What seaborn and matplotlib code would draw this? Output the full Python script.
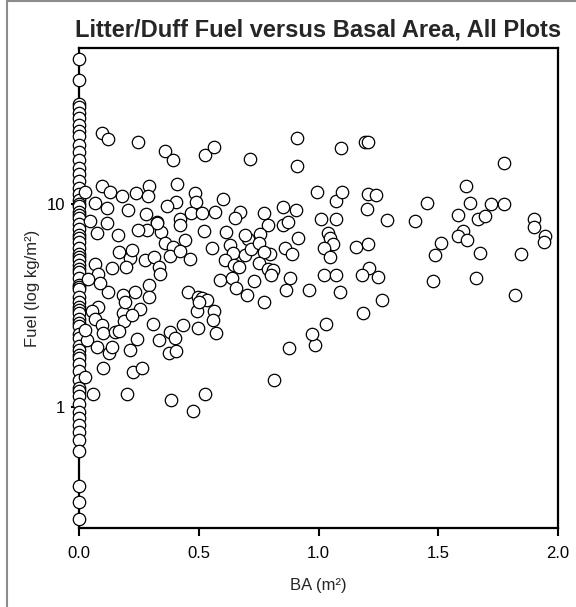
import numpy as np
import pandas as pd
import matplotlib
matplotlib.use("Agg")
import matplotlib.pyplot as plt
from matplotlib.lines import Line2D
import seaborn as sns

# ---- data ----
# plots with zero basal area
fuel_at_zero_ba = [52, 41, 31, 30, 28, 26.5, 24.5, 23, 21.5, 19.5, 18, 16.5, 15, 14, 13,
                   12, 11.2, 10.5, 10.0, 9.8, 9.1, 8.8, 8.5, 8.0, 7.5, 7.0, 6.8, 6.5, 6.1,
                   5.7, 5.5, 5.3, 5.0, 4.8, 4.6, 4.3, 4.0, 3.9, 3.8, 3.5, 3.3, 3.1, 3.0,
                   2.9, 2.7, 2.6, 2.5, 2.3, 2.2, 2.0, 1.9, 1.8, 1.75, 1.63, 1.5, 1.36,
                   1.24, 1.2, 1.13, 1.03, 0.95, 0.88, 0.82, 0.75, 0.69, 0.61, 0.41, 0.34, 0.28]

ba_m2 = [0.095, 0.122, 0.247, 0.359, 0.393, 0.526, 0.563, 0.716, 0.909, 0.909, 1.092, 1.193, 1.207, 1.773,
         0.095, 0.129, 0.181, 0.236, 0.292, 0.290, 0.410, 0.407, 0.486, 0.490, 0.600, 0.366, 0.067, 0.115,
         0.206, 0.280, 0.324, 0.421, 0.467, 0.512, 0.567, 0.672, 0.653, 0.773, 0.852, 0.904, 0.790, 0.852,
         0.872, 0.915, 0.755, 0.707, 0.693, 0.614, 0.524, 0.421, 0.442, 0.341, 0.327, 0.282, 0.247, 0.164,
         0.115, 0.074, 0.044, 0.025, 0.994, 1.073, 1.099, 1.207, 1.242, 1.204, 1.617, 1.451, 1.402, 1.284,
         1.634, 1.722, 1.773, 1.583, 1.666, 1.696, 1.901, 1.898, 1.945, 1.940, 1.603, 1.582, 1.621, 1.513,
         1.485, 1.673, 1.847, 1.478, 1.659, 1.819, 1.010, 1.072, 1.040, 1.050, 1.061, 1.022, 1.050, 1.156,
         1.207, 1.022, 1.074, 1.211, 1.181, 1.249, 1.089, 1.266, 1.185, 1.033, 0.987, 0.971, 0.961, 0.877,
         0.814, 0.359, 0.393, 0.380, 0.421, 0.463, 0.555, 0.632, 0.641, 0.693, 0.720, 0.752, 0.799, 0.772,
         0.860, 0.889, 0.166, 0.215, 0.220, 0.277, 0.313, 0.332, 0.338, 0.197, 0.136, 0.067, 0.081, 0.611,
         0.647, 0.668, 0.750, 0.790, 0.811, 0.803, 0.588, 0.638, 0.730, 0.880, 0.866, 0.655, 0.700, 0.772,
         0.456, 0.498, 0.512, 0.533, 0.294, 0.294, 0.234, 0.185, 0.122, 0.088, 0.039, 0.081, 0.056, 0.254,
         0.184, 0.491, 0.563, 0.560, 0.498, 0.572, 0.502, 0.192, 0.188, 0.220, 0.067, 0.095, 0.101, 0.150,
         0.167, 0.032, 0.074, 0.126, 0.136, 0.242, 0.213, 0.310, 0.336, 0.380, 0.400, 0.435, 0.377, 0.406,
         0.101, 0.227, 0.262, 0.025, 0.057, 0.199, 0.384, 0.526, 0.477, 0.025]

fuel_kg = [22.4, 20.8, 20.1, 18.2, 16.5, 17.4, 19.0, 16.7, 21.2, 15.4, 18.8, 20.3, 20.1, 15.9,
           12.2, 11.5, 10.9, 11.3, 12.3, 10.9, 12.5, 10.2, 11.3, 10.2, 10.6, 9.78, 10.1, 9.52,
           9.34, 8.93, 8.18, 8.44, 9.0, 9.0, 9.14, 9.14, 8.51, 9.0, 9.66, 9.34, 7.84, 7.88,
           8.18, 6.80, 7.08, 6.76, 7.03, 7.24, 7.40, 7.88, 6.68, 7.31, 8.09, 7.45, 7.45, 7.03,
           8.02, 7.17, 8.25, 11.5, 11.4, 10.4, 11.5, 11.2, 11.1, 9.42, 12.3, 10.1, 8.25, 8.34,
           10.1, 10.0, 10.0, 8.86, 8.39, 8.73, 8.44, 7.73, 6.95, 6.52, 7.40, 6.95, 6.65, 6.45,
           5.62, 5.75, 5.69, 4.16, 4.30, 3.56, 8.41, 8.41, 7.22, 6.78, 6.35, 6.05, 5.51, 6.12,
           6.34, 4.47, 4.47, 4.82, 4.47, 4.35, 3.70, 3.35, 2.89, 2.56, 2.03, 2.30, 3.77, 1.96,
           1.36, 6.40, 6.14, 5.52, 5.88, 5.37, 6.09, 6.30, 5.71, 5.61, 6.00, 6.40, 5.68, 5.82,
           6.05, 5.69, 5.82, 5.40, 5.93, 5.30, 5.50, 4.91, 4.52, 4.92, 4.82, 5.04, 4.52, 5.28,
           4.98, 4.87, 5.10, 4.78, 4.73, 4.47, 4.21, 4.30, 4.17, 4.30, 3.78, 3.84, 3.56, 3.30,
           3.70, 3.49, 3.43, 3.37, 3.97, 3.50, 3.70, 3.56, 3.70, 4.07, 4.27, 3.12, 2.97, 3.04,
           2.89, 2.97, 2.97, 2.68, 2.44, 2.31, 3.30, 3.30, 2.65, 2.84, 2.70, 2.54, 2.31, 2.35,
           2.37, 2.14, 1.98, 1.84, 1.97, 2.16, 1.90, 2.56, 2.15, 2.35, 2.18, 2.55, 1.84, 1.89,
           1.55, 1.49, 1.55, 1.41, 1.16, 1.16, 1.09, 1.16, 0.955, 2.40]

x_ticks = [0.0, 0.5, 1.0, 1.5, 2.0]
x_ticklabels = ["0.0", "0.5", "1.0", "1.5", "2.0"]
y_ticks = [1, 10]
y_ticklabels = ["1", "10"]

df = pd.DataFrame({
    "BA": [0.0] * len(fuel_at_zero_ba) + ba_m2,
    "Fuel": fuel_at_zero_ba + fuel_kg,
})

# ---- styling ----
sns.set_style("white")
plt.rcParams["font.family"] = ["Liberation Sans", "DejaVu Sans"]

fig = plt.figure(figsize=(5.76, 6.07), dpi=100)
ax = fig.add_axes([79 / 576, 1 - 528 / 607, (558 - 79) / 576, (528 - 48) / 607])

sns.scatterplot(data=df, x="BA", y="Fuel", ax=ax, marker="o", s=80,
                facecolor="white", edgecolor="black", linewidth=0.9,
                clip_on=False, zorder=3)

ax.set_yscale("log")
ax.set_xlim(0, 2.0)
ax.set_ylim(0.254, 58.6)

ax.set_xticks(x_ticks)
ax.set_xticklabels(x_ticklabels)
ax.set_yticks(y_ticks)
ax.set_yticklabels(y_ticklabels)
ax.yaxis.set_minor_locator(matplotlib.ticker.NullLocator())

ax.tick_params(axis="both", which="major", direction="out", length=6, width=1.5,
               color="black", labelsize=12, labelcolor="black", pad=4,
               bottom=True, left=True)
ax.tick_params(axis="x", pad=7)

for sp in ax.spines.values():
    sp.set_visible(True)
    sp.set_color("black")
    sp.set_linewidth(1.6)

ax.set_xlabel("BA (m²)", fontsize=12, labelpad=12)
ax.set_ylabel("Fuel (log kg/m²)", fontsize=12, labelpad=5)
ax.set_title("Litter/Duff Fuel versus Basal Area, All Plots",
             fontsize=17, fontweight="bold", pad=8)

# light gray page border on the left and top
fig.add_artist(Line2D([7 / 576, 7 / 576], [0, 1 - 1 / 607], color="#8c8c8c", lw=1.5,
                      transform=fig.transFigure))
fig.add_artist(Line2D([7 / 576, 1], [1 - 1 / 607, 1 - 1 / 607], color="#8c8c8c", lw=1.5,
                      transform=fig.transFigure))

fig.savefig("out.png", dpi=100)
